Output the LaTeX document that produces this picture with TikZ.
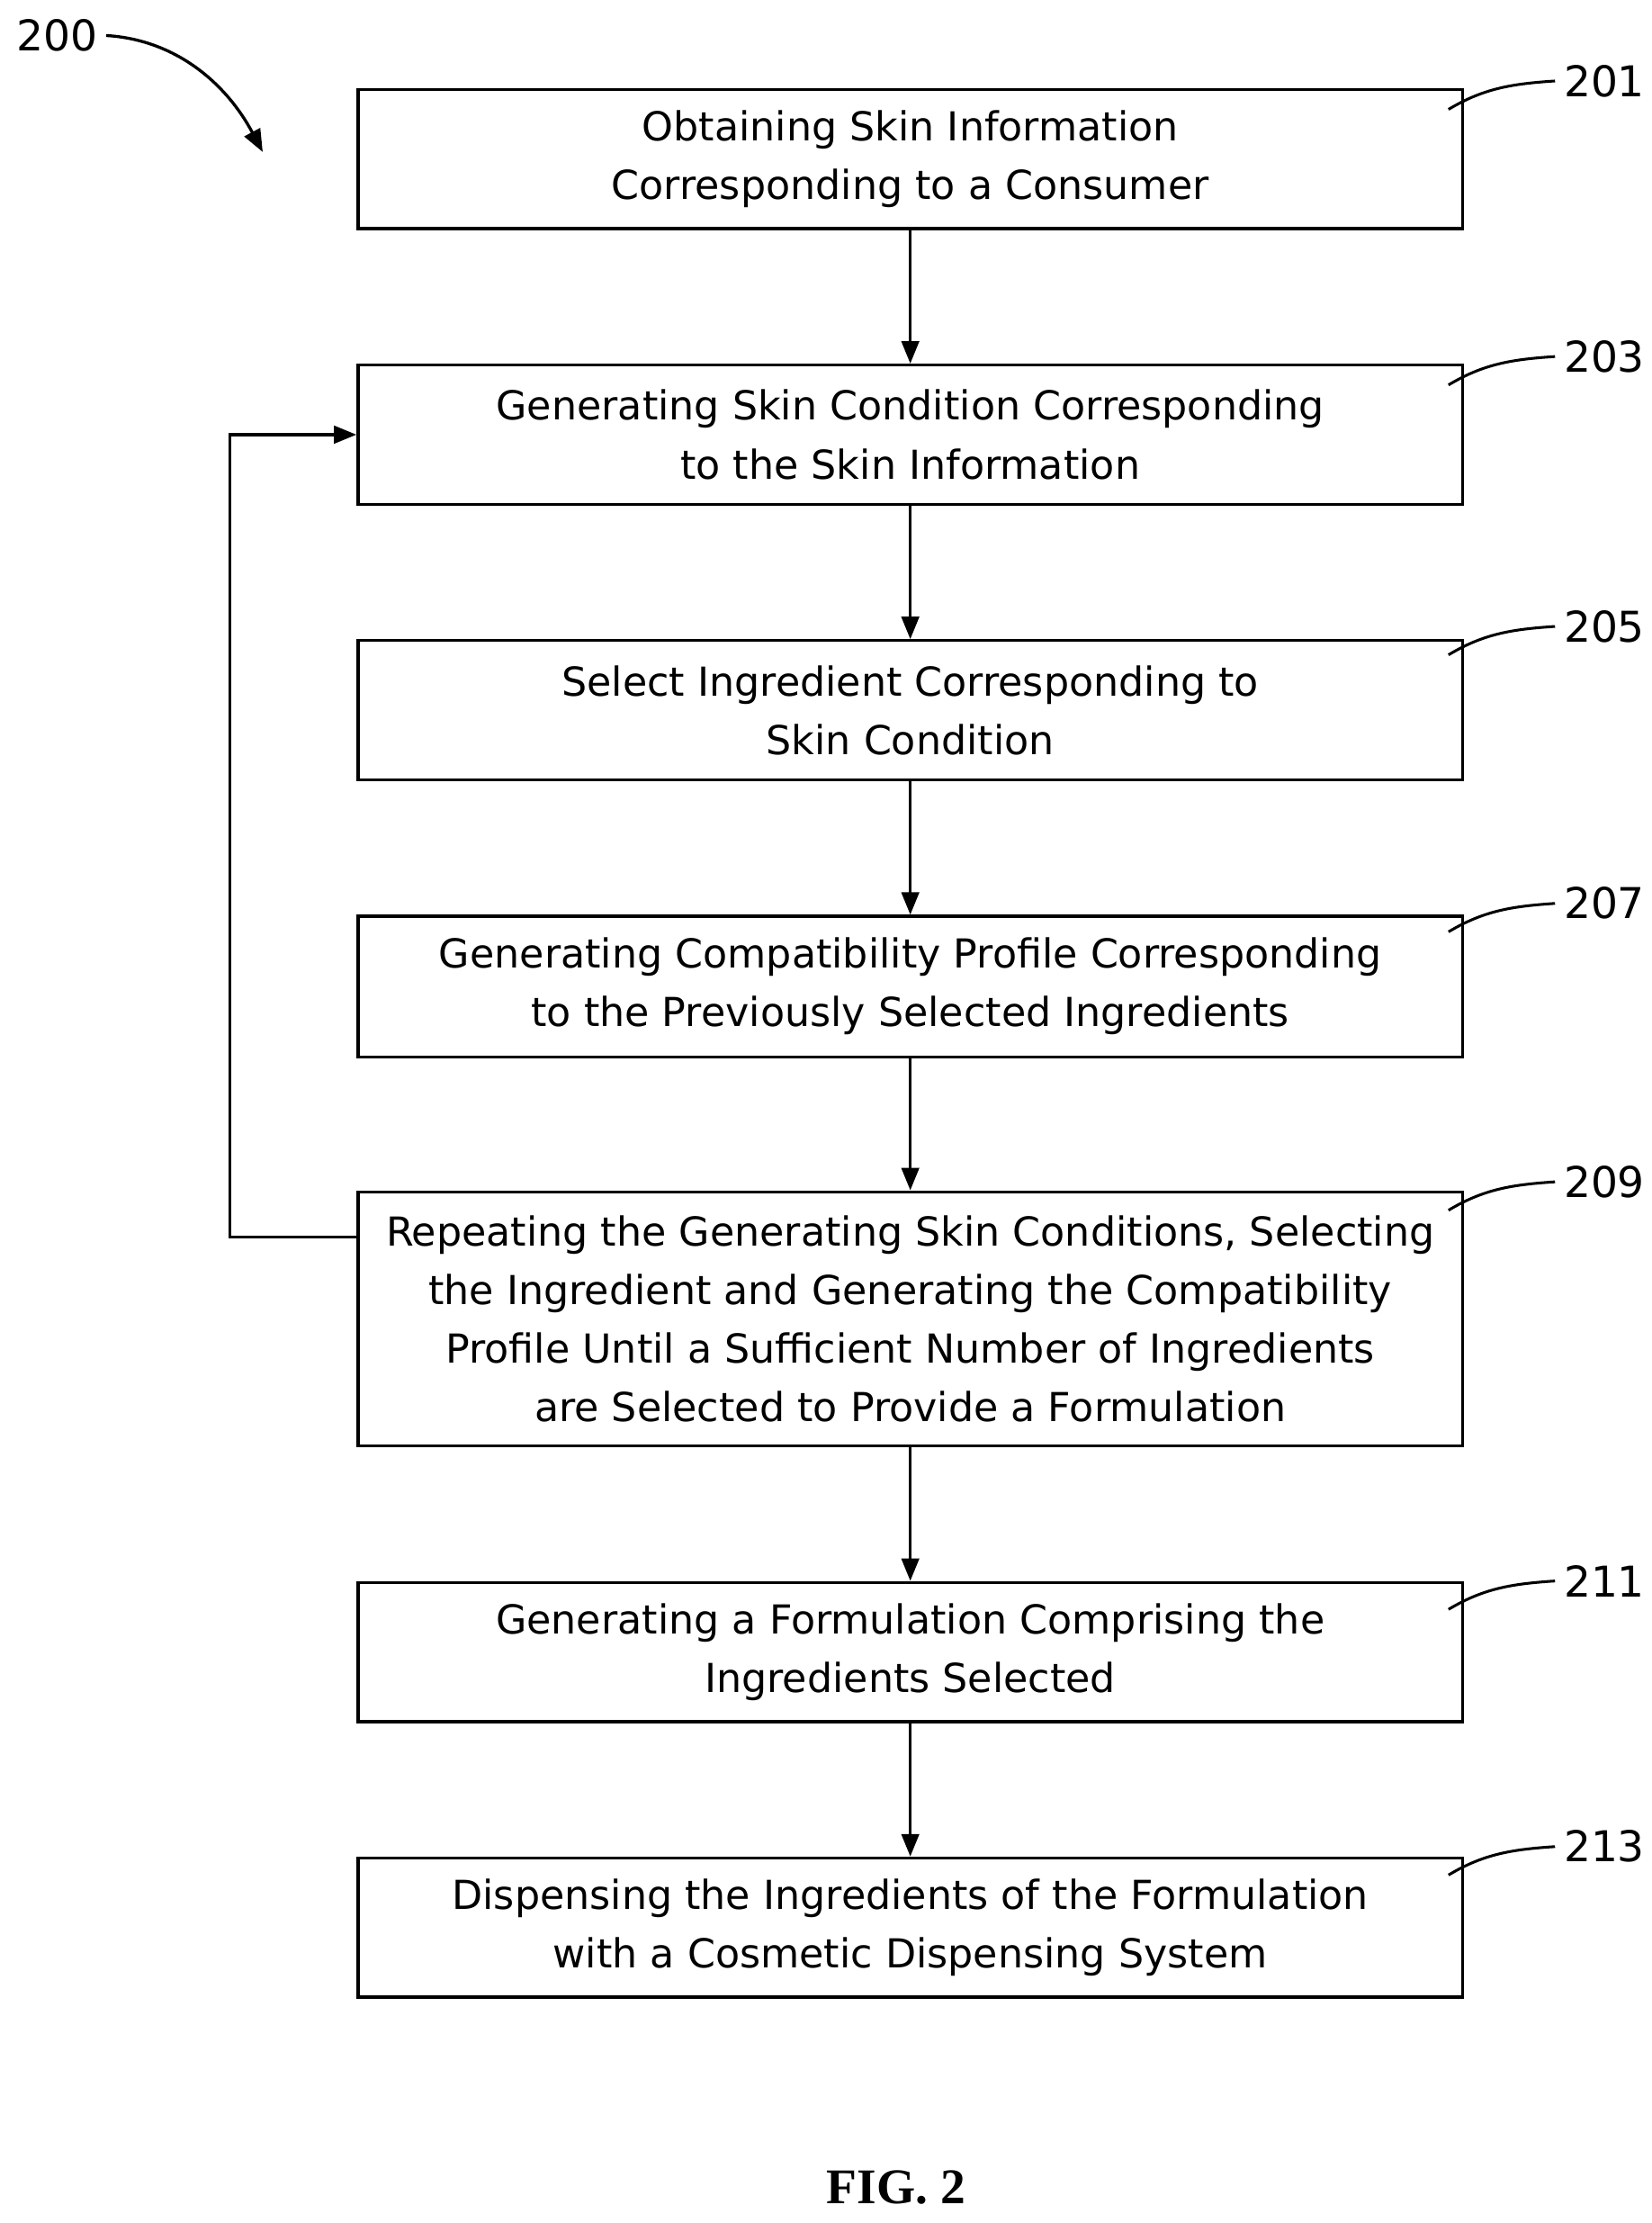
\documentclass[tikz,border=0pt]{standalone}
\usepackage{fontspec}
\setmainfont{Liberation Serif}
\newfontfamily\flowfont{DejaVu Sans}
\usetikzlibrary{arrows.meta}

\tikzset{
  procbox/.style={draw, line width=1.2pt, minimum width=15.56cm, align=center,
    font=\flowfont\fontsize{16}{23.5}\selectfont},
  flow/.style={-{Triangle[length=9pt,width=7pt]}, line width=1.2pt},
  leader/.style={line width=1.1pt},
  refnum/.style={font=\flowfont\fontsize{17}{20}\selectfont}
}

\begin{document}
\begin{tikzpicture}[x=0.02cm,y=-0.02cm]
\useasboundingbox (0,0) rectangle (1163,1565);

\node[procbox, minimum height=1.96cm] (s201) at (641,112) {Obtaining Skin Information\\Corresponding to a Consumer};
\node[procbox, minimum height=1.96cm] (s203) at (641,306) {Generating Skin Condition Corresponding\\to the Skin Information};
\node[procbox, minimum height=1.96cm] (s205) at (641,500) {Select Ingredient Corresponding to\\Skin Condition};
\node[procbox, minimum height=1.98cm] (s207) at (641,694.5) {Generating Compatibility Profile Corresponding\\to the Previously Selected Ingredients};
\node[procbox, minimum height=3.58cm] (s209) at (641,928.5) {Repeating the Generating Skin Conditions, Selecting\\the Ingredient and Generating the Compatibility\\Profile Until a Sufficient Number of Ingredients\\are Selected to Provide a Formulation};
\node[procbox, minimum height=1.96cm] (s211) at (641,1163) {Generating a Formulation Comprising the\\Ingredients Selected};
\node[procbox, minimum height=1.96cm] (s213) at (641,1357) {Dispensing the Ingredients of the Formulation\\with a Cosmetic Dispensing System};

\draw[flow] (s201) -- (s203);
\draw[flow] (s203) -- (s205);
\draw[flow] (s205) -- (s207);
\draw[flow] (s207) -- (s209);
\draw[flow] (s209) -- (s211);
\draw[flow] (s211) -- (s213);

% loop back
\coordinate (loopa) at (162,871);
\coordinate (loopb) at (162,306);
\draw[flow] (s209.west |- loopa) -- (loopa) -- (loopb) -- (s203.west);

% reference numbers
\foreach \n/\y in {201/57, 203/251, 205/441, 207/636, 209/832, 211/1113, 213/1300}
{
  \node[refnum, anchor=west] (r\n) at (1095,\y) {\n};
  \draw[leader] (1020,\y+20) .. controls (1045,\y+5) and (1065,\y+2) .. (r\n.west);
}

\node[refnum] (r200) at (40,25) {200};
\draw[flow] (r200.east) .. controls (125,28) and (160,60) .. (185,107);

\node[font=\bfseries\fontsize{20}{24}\selectfont] (fig) at (631,1540) {FIG. 2};
\end{tikzpicture}
\end{document}
